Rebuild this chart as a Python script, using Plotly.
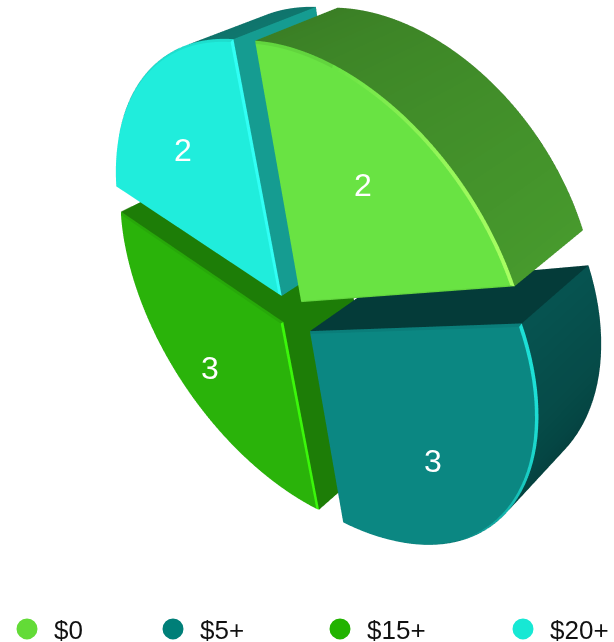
import math
import plotly.graph_objects as go

# ---- data ----
categories = ["$0", "$5+", "$15+", "$20+"]
values = [2, 3, 3, 2]
colors = ["#63DB37", "#007F78", "#22B300", "#17E8D4"]

# ---- styles ----
face_rgb = [(105, 227, 67), (11, 135, 130), (42, 179, 10), (32, 237, 220)]
rim_shade = [(0.56, 0.68), (0.62, 0.30), (0.6, 0.6), (0.44, 0.50)]
start_shade = [0.6, 0.44, 0.70, 0.6]
end_shade = [0.5, 0.5, 0.70, 0.66]
bevel_bright = [(170, 255, 100), (30, 225, 215), (60, 250, 10), (50, 255, 245)]
EXPLODE, THICK, BEVEL = 0.09, 0.43, 0.008
N_ARC = 48
FIG_W, FIG_H, TOP_CUT = 614, 760, 59
legend_px = [0, 146, 313, 496]
LEGEND_Y_PX = 629

ALPHA = math.radians(54)
PHI = math.radians(38)
ROLL = math.radians(3.4)
DIST = 1.064
RANGE = 1.69
SHIFT_R, SHIFT_U = 14 / 862, -5 / 862
LIGHT = math.radians(10)
LABEL_R = 0.685


def rgb(c, f=1.0):
    return "rgb(%d,%d,%d)" % tuple(min(255, int(v * f)) for v in c)


def wedge(t0, t1, idx):
    mid = (t0 + t1) / 2
    ox, oy = EXPLODE * math.sin(mid), EXPLODE * math.cos(mid)
    half = (t1 - t0) / 2
    pt = lambda r, t: (ox + r * math.sin(t), oy + r * math.cos(t))
    apex = (ox, oy)
    outer = [pt(1, t0 + (t1 - t0) * i / N_ARC) for i in range(N_ARC + 1)]
    ia = pt(BEVEL / math.sin(half), mid)
    da = math.asin(BEVEL / (1 - BEVEL))
    inner = [pt(1 - BEVEL, t0 + da + (t1 - t0 - 2 * da) * i / N_ARC) for i in range(N_ARC + 1)]

    X, Y, Z, I, J, K, FC = [], [], [], [], [], [], []

    def add(p, z):
        X.append(p[0]); Y.append(p[1]); Z.append(z)
        return len(X) - 1

    def quad(a, b, c, d, col):
        I.extend([a, a]); J.extend([b, c]); K.extend([c, d]); FC.extend([col, col])

    base = face_rgb[idx]
    ci = add(ia, 0)
    ids = [add(p, 0) for p in inner]
    for a, b in zip(ids, ids[1:]):
        I.append(ci); J.append(a); K.append(b); FC.append(rgb(base))
    oa = add(apex, -BEVEL)
    oid = [add(p, -BEVEL) for p in outer]

    def bevel_col(nx, ny):
        d = nx * math.cos(LIGHT) + ny * math.sin(LIGHT)
        if d > 0.5:
            m = (d - 0.5) / 0.5
            b = bevel_bright[idx]
            return "rgb(%d,%d,%d)" % tuple(int(base[i] * (1 - m) + b[i] * m) for i in range(3))
        return rgb(base, 0.94)

    for n in range(N_ARC):
        tm = t0 + (t1 - t0) * (n + 0.5) / N_ARC
        quad(ids[n], oid[n], oid[n + 1], ids[n + 1], bevel_col(math.sin(tm), math.cos(tm)))
    quad(ci, oa, oid[0], ids[0], bevel_col(-math.cos(t0), math.sin(t0)))
    quad(ci, ids[-1], oid[-1], oa, bevel_col(math.cos(t1), -math.sin(t1)))
    bid = [add(p, -THICK) for p in outer]
    s0, s1 = rim_shade[idx]
    for n in range(N_ARC):
        f = s0 + (s1 - s0) * (n + 0.5) / N_ARC
        quad(oid[n], bid[n], bid[n + 1], oid[n + 1], rgb(base, f))
    ba = add(apex, -THICK)
    quad(oa, ba, bid[0], oid[0], rgb(base, start_shade[idx]))
    quad(oa, oid[-1], bid[-1], ba, rgb(base, end_shade[idx]))
    for a, b in zip(bid, bid[1:]):
        I.append(ba); J.append(a); K.append(b); FC.append(rgb(base, 0.3))
    return X, Y, Z, I, J, K, FC


fig = go.Figure()
annotations = []
total = sum(values)
cum = 0
for idx, (name, v) in enumerate(zip(categories, values)):
    t0 = 2 * math.pi * cum / total
    t1 = 2 * math.pi * (cum + v) / total
    cum += v
    X, Y, Z, I, J, K, FC = wedge(t0, t1, idx)
    fig.add_trace(go.Mesh3d(
        x=X, y=Y, z=Z, i=I, j=J, k=K, facecolor=FC, flatshading=True,
        lighting=dict(ambient=1, diffuse=0, specular=0, roughness=1, fresnel=0),
        hoverinfo="skip", showlegend=False, name=name))
    mid = (t0 + t1) / 2
    annotations.append(dict(
        x=(EXPLODE + LABEL_R) * math.sin(mid), y=(EXPLODE + LABEL_R) * math.cos(mid), z=0,
        text=str(v), showarrow=False, font=dict(size=32, color="white", family="Liberation Sans")))

for idx, name in enumerate(categories):
    key = "legend" if idx == 0 else "legend%d" % (idx + 1)
    fig.add_trace(go.Scatter3d(
        x=[None], y=[None], z=[None], mode="markers", name=name, showlegend=True, legend=key,
        marker=dict(size=16, color=colors[idx], line=dict(color=colors[idx], width=5))))

common = dict(orientation="h", y=1 - (LEGEND_Y_PX + TOP_CUT) / FIG_H, yanchor="middle", xanchor="left", itemwidth=44,
              bgcolor="rgba(0,0,0,0)", font=dict(size=26, family="Liberation Sans", color="#111111"),
              itemclick=False, itemdoubleclick=False)

s, c = math.sin(PHI), math.cos(PHI)
sa, ca = math.sin(ALPHA), math.cos(ALPHA)
w = (c * sa, s * sa, ca)
u = (-s * c + s * c * ca, c * c + s * s * ca, -s * sa)
r = (u[1] * w[2] - u[2] * w[1], u[2] * w[0] - u[0] * w[2], u[0] * w[1] - u[1] * w[0])
u2 = tuple(math.cos(ROLL) * u[i] - math.sin(ROLL) * r[i] for i in range(3))
r2 = tuple(math.cos(ROLL) * r[i] + math.sin(ROLL) * u[i] for i in range(3))
t = tuple(SHIFT_R * r2[i] + SHIFT_U * u2[i] for i in range(3))
eye = dict(x=DIST * w[0] + t[0], y=DIST * w[1] + t[1], z=DIST * w[2] + t[2])
center = dict(x=t[0], y=t[1], z=t[2])
up = dict(x=u2[0], y=u2[1], z=u2[2])

axis = dict(visible=False, range=[-RANGE, RANGE], autorange=False)
fig.update_layout(
    width=FIG_W, height=FIG_H, margin=dict(l=0, r=0, t=0, b=0), paper_bgcolor="white",
    scene=dict(
        domain=dict(x=[0, 1], y=[0, 1]),
        xaxis=axis, yaxis=axis, zaxis=axis,
        aspectmode="manual", aspectratio=dict(x=1, y=1, z=1),
        camera=dict(eye=eye, up=up, center=center,
                    projection=dict(type="perspective")),
        annotations=annotations,
    ),
    legend=dict(x=legend_px[0] / FIG_W, **common),
    legend2=dict(x=legend_px[1] / FIG_W, **common),
    legend3=dict(x=legend_px[2] / FIG_W, **common),
    legend4=dict(x=legend_px[3] / FIG_W, **common),
)

fig.write_html("out.html",
               post_script="document.body.style.margin='-%dpx 0 0 0';document.documentElement.style.overflow='hidden';" % TOP_CUT,
               config=dict(displayModeBar=False))
